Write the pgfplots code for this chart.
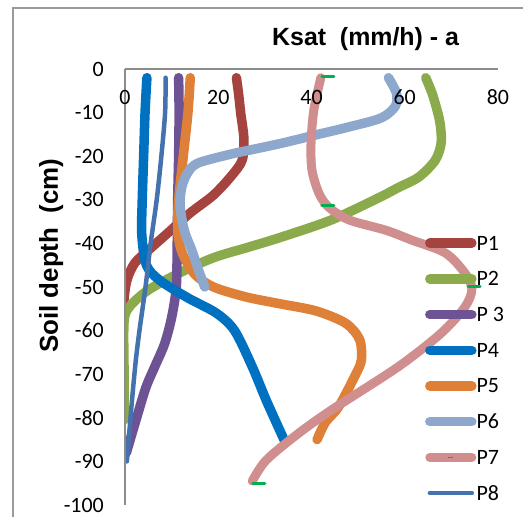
\documentclass[border=0pt]{standalone}
\usepackage{fontspec}
\setmainfont{Carlito}
\newfontfamily\arialfont{Liberation Sans}
\usepackage{pgfplots}
\pgfplotsset{compat=1.18}

\definecolor{cP1}{HTML}{A5433F}
\definecolor{cP2}{HTML}{8AAA4B}
\definecolor{cP3}{HTML}{6D5393}
\definecolor{cP4}{HTML}{0070C0}
\definecolor{cP5}{HTML}{DF8038}
\definecolor{cP6}{HTML}{8EA8CD}
\definecolor{cP7}{HTML}{D08E8E}
\definecolor{cP8}{HTML}{4472AE}
\definecolor{mk}{HTML}{00B050}
\definecolor{frame}{HTML}{9A9A9A}
\definecolor{axisgray}{HTML}{8C8C8C}

% legend sample for P7: line with a small marker dash in the middle
\pgfplotsset{
  p7 legend/.style={legend image code/.code={%
    \draw[##1] (0bp,0bp) -- (42bp,0bp);
    \draw[mk, line width=1.5bp, line cap=butt] (18.5bp,0bp) -- (23.5bp,0bp);}},
}

\begin{document}
\begin{tikzpicture}
% chart area border (left and top edges)
\draw[frame, line width=1.2bp] (-112bp,-40bp) |- (430bp,497bp);
\begin{axis}[
  scale only axis,
  width=373bp, height=436bp,
  xmin=0, xmax=80, ymin=-100, ymax=0,
  axis x line*=top, axis y line*=left,
  axis line style={axisgray, line width=1.3bp},
  axis on top,
  major tick length=0pt,
  xtick={0,20,40,60,80},
  xticklabels={0,20,40,60,80},
  ytick={-100,-90,-80,-70,-60,-50,-40,-30,-20,-10,0},
  yticklabels={-100,-90,-80,-70,-60,-50,-40,-30,-20,-10,0},
  tick label style={font=\fontsize{22}{25}\selectfont, inner sep=0pt},
  xticklabel style={anchor=center, yshift=-28bp},
  yticklabel style={anchor=east, xshift=-21bp},
  title={Ksat\ \ (mm/h) - a},
  title style={font=\arialfont\bfseries\fontsize{25}{30}\selectfont,
    at={(axis description cs:0.645,1.041)}, anchor=base, inner sep=0pt},
  ylabel={Soil depth\ \ (cm)},
  ylabel style={font=\arialfont\bfseries\fontsize{26}{30}\selectfont,
    at={(axis description cs:-0.180,0.572)}, anchor=base, inner sep=0pt},
  legend style={at={(axis description cs:0.804,0.617)}, anchor=north west,
    draw=none, fill=none, inner sep=0pt, row sep=21.7bp, column sep=0bp,
    font=\fontsize{22}{25}\selectfont,
    nodes={inner sep=0pt, text height=14bp, text depth=0bp}},
  legend cell align=left,
  legend image code/.code={\draw[#1] (0bp,0bp) -- (42bp,0bp);},
  every axis plot/.append style={line cap=round, line join=round, smooth, tension=0.5},
]
% P1
\addplot[cP1, line width=9.5bp] coordinates {
 (23.9,-2) (24.4,-6) (24.8,-10) (25.5,-16) (25.1,-21) (22.6,-24.8) (18.9,-29)
 (14,-33) (9.2,-37.6) (5.3,-41.3) (2.1,-44.5) (0.4,-48.5) (-0.3,-54) (-0.5,-62) (-0.5,-73)};
\addlegendentry{P1}
% P2
\addplot[cP2, line width=9.5bp] coordinates {
 (64.5,-2) (66,-6) (67.5,-12) (67.8,-17) (66.5,-21) (63,-24.8) (58.6,-27.2)
 (54.5,-29.5) (44.3,-34.6) (33.7,-38.5) (26.7,-40.8) (19.2,-43.2) (12.2,-46.5)
 (5,-50.7) (1,-54.5) (-0.2,-58) (-0.2,-70) (-0.2,-80.5)};
\addlegendentry{P2}
% P3
\addplot[cP3, line width=9.5bp] coordinates {
 (11.5,-2) (11.6,-10) (11.5,-20) (11.3,-30) (11.2,-40) (11,-50) (10,-57)
 (8.5,-63) (6.5,-68) (4.5,-73) (2.5,-80) (0.3,-88)};
\addlegendentry{P 3}
% P4
\addplot[cP4, line width=9.5bp] coordinates {
 (4.7,-2) (4.3,-10) (4,-20) (3.7,-30) (3.6,-38) (4.6,-45) (7.5,-48.5)
 (13.5,-52.5) (19.6,-56) (23.5,-60) (27.3,-68.3) (30.3,-76) (34.1,-85)};
\addlegendentry{P4}
% P5
\addplot[cP5, line width=9.5bp] coordinates {
 (14,-2) (13.5,-10) (12.5,-20) (11.5,-30) (11.3,-37) (12.2,-42) (14.9,-47)
 (19,-50) (26,-52.3) (33,-53.8) (41,-55.5) (47.3,-58.3) (50.3,-62) (50.7,-66.7)
 (49.5,-70) (45.8,-77.5) (43,-81) (41.2,-85)};
\addlegendentry{P5}
% P6
\addplot[cP6, line width=9.5bp] coordinates {
 (56.5,-2) (58.2,-5.5) (58,-8.5) (55,-11.2) (48,-13.3) (41,-15.1) (33.7,-17)
 (27.2,-18.5) (22.8,-19.5) (15.6,-21.6) (13.4,-23.9) (12.2,-27) (11.8,-31)
 (12.3,-35) (13,-38) (14.3,-41.5) (16,-46.8) (17.1,-50)};
\addlegendentry{P6}
% P7
\addplot[cP7, line width=9bp, p7 legend] coordinates {
 (42,-2) (40.5,-9.4) (39.9,-17) (40.1,-23.2) (41.6,-28.5) (43.7,-31.7)
 (48,-34.6) (56,-37) (61.4,-39.2) (68.7,-42.2) (72.9,-46.8) (74.4,-50.5)
 (72.9,-54.6) (67.8,-60.6) (58.6,-68.3) (44.3,-78.2) (37.3,-83.5) (30.3,-89.7) (27.3,-94.5)};
\addlegendentry{P7}
% P8
\addplot[cP8, line width=4.5bp] coordinates {
 (8.7,-2) (8.6,-10) (7.8,-20) (6.8,-30) (5.5,-40) (4.4,-50) (3.1,-60)
 (2.3,-67) (1.5,-76) (0.4,-90)};
\addlegendentry{P8}
% P7 data-point markers
\addplot[mk, only marks, mark=-, mark size=6bp, line width=3bp, forget plot]
 coordinates {(43.5,-1.8) (43.5,-31.2) (74.9,-49.8) (28.7,-95)};
\end{axis}
\pgfresetboundingbox
\path (-125bp,-12bp) rectangle (398bp,505bp);
\end{tikzpicture}
\end{document}
